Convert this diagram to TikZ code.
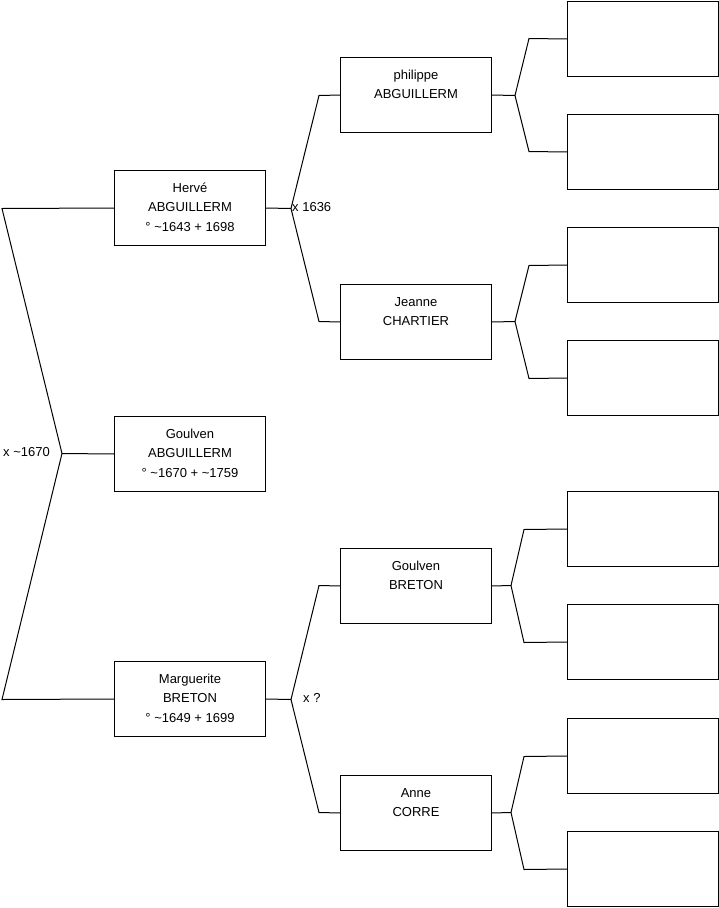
\documentclass[tikz,border=0pt]{standalone}
\usepackage{fontspec}
\setmainfont{Liberation Sans}
\newcommand{\ptext}[1]{\parbox[c][75pt][t]{151pt}{\centering\fontsize{13}{19.5}\selectfont\rule{0pt}{21.5pt}#1\par}}
\tikzset{
  person/.style={draw, line width=1pt, minimum width=151pt, minimum height=75pt, inner sep=0pt, outer sep=0pt, anchor=north west},
  link/.style={line width=1pt},
  lbl/.style={inner sep=0pt, font=\fontsize{13}{15.6}\selectfont}
}
\begin{document}
\begin{tikzpicture}[x=1pt,y=-1pt]
\useasboundingbox (0,0) rectangle (719,908);
% generation 1
\node[person] (herve) at (114.5,170.5) {\ptext{Hervé\\ABGUILLERM\\° \textasciitilde1643 + 1698}};
\node[person] (goulven) at (114.5,416.5) {\ptext{Goulven\\ABGUILLERM\\° \textasciitilde1670 + \textasciitilde1759}};
\node[person] (marg) at (114.5,661.5) {\ptext{Marguerite\\BRETON\\° \textasciitilde1649 + 1699}};
% generation 2
\node[person] (phil) at (340.5,57.5) {\ptext{philippe\\ABGUILLERM}};
\node[person] (jeanne) at (340.5,284.5) {\ptext{Jeanne\\CHARTIER}};
\node[person] (gbreton) at (340.5,548.5) {\ptext{Goulven\\BRETON}};
\node[person] (anne) at (340.5,775.5) {\ptext{Anne\\CORRE}};
% generation 3
\node[person] (r1) at (567.5,1.5) {};
\node[person] (r2) at (567.5,114.5) {};
\node[person] (r3) at (567.5,227.5) {};
\node[person] (r4) at (567.5,340.5) {};
\node[person] (r5) at (567.5,491.5) {};
\node[person] (r6) at (567.5,604.5) {};
\node[person] (r7) at (567.5,718.5) {};
\node[person] (r8) at (567.5,831.5) {};
% left couple
\coordinate (lt) at (2,208.5);
\coordinate (lb) at (2,699.5);
\coordinate (lv) at (62,453.5);
\draw[link] (herve.west) -- (lt) -- (lv) -- (lb) -- (marg.west);
\draw[link] (lv) -- (goulven.west);
\node[lbl, anchor=west] (m1) at (3,452) {x \textasciitilde1670};
% Herve parents
\coordinate (hv) at (291,208.5);
\coordinate (ht) at (319,95.5);
\coordinate (hb) at (319,321.5);
\draw[link] (herve.east) -- (hv);
\draw[link] (phil.west) -- (ht) -- (hv) -- (hb) -- (jeanne.west);
\node[lbl, anchor=west] (m2) at (292,207) {x 1636};
% Marguerite parents
\coordinate (mv) at (291,699.5);
\coordinate (mt) at (319,585.5);
\coordinate (mb) at (319,812.5);
\draw[link] (marg.east) -- (mv);
\draw[link] (gbreton.west) -- (mt) -- (mv) -- (mb) -- (anne.west);
\node[lbl, anchor=west] (m3) at (303,698) {x ?};
% generation 3 links
\coordinate (pv) at (515,95.5);
\draw[link] (phil.east) -- (pv);
\draw[link] (r1.west) -- (529,38.5) -- (pv) -- (529,151.5) -- (r2.west);
\coordinate (jv) at (515,321.5);
\draw[link] (jeanne.east) -- (jv);
\draw[link] (r3.west) -- (529,265.5) -- (jv) -- (529,378.5) -- (r4.west);
\coordinate (gv) at (511,585.5);
\draw[link] (gbreton.east) -- (gv);
\draw[link] (r5.west) -- (524,529.5) -- (gv) -- (524,642.5) -- (r6.west);
\coordinate (av) at (511,812.5);
\draw[link] (anne.east) -- (av);
\draw[link] (r7.west) -- (524,756.5) -- (av) -- (524,869.5) -- (r8.west);
\end{tikzpicture}
\end{document}
